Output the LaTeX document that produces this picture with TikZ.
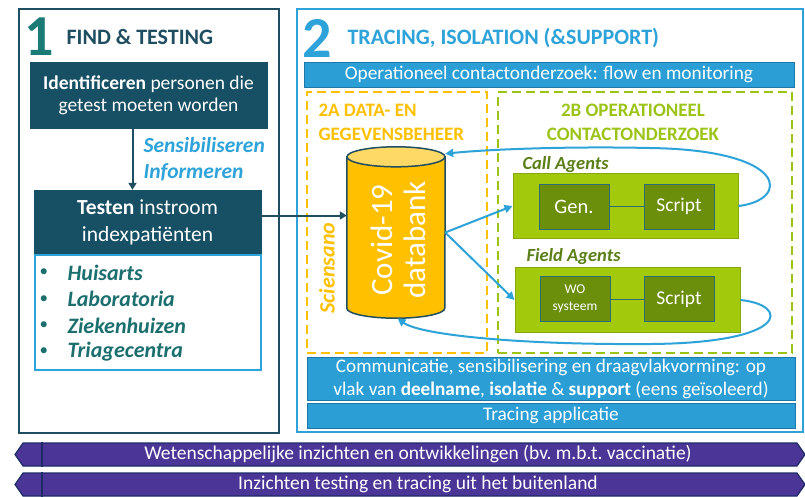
\documentclass[tikz,border=0pt]{standalone}
\usepackage{fontspec}
\setmainfont{Carlito}
\usetikzlibrary{shapes.symbols,arrows.meta}

\definecolor{findframe}{HTML}{1F4E61}
\definecolor{findfill}{HTML}{174F64}
\definecolor{findnum}{HTML}{1A7A76}
\definecolor{listtext}{HTML}{1B6F6F}
\definecolor{skyblue}{HTML}{2EA3DA}
\definecolor{barfill}{HTML}{2B9ED6}
\definecolor{barline}{HTML}{1C78A8}
\definecolor{dataorange}{HTML}{FFC000}
\definecolor{datatop}{HTML}{FFD966}
\definecolor{opgreen}{HTML}{9CC417}
\definecolor{agentfill}{HTML}{A2C90C}
\definecolor{agentline}{HTML}{86A90E}
\definecolor{toolfill}{HTML}{6B8E0B}
\definecolor{toolline}{HTML}{2E6B74}
\definecolor{agenttext}{HTML}{5A7F16}
\definecolor{insight}{HTML}{4B3597}
\definecolor{insightline}{HTML}{1D2B66}

\newcommand{\setfs}[2]{\fontsize{#1}{#2}\selectfont}

\begin{document}
\begin{tikzpicture}[x=1pt,y=-1pt,
    panel/.style={draw,line width=1.5pt,fill=white,inner sep=0pt},
    darkbox/.style={fill=findfill,draw=findfill,text=white,align=center,inner sep=0pt},
    bluebar/.style={fill=barfill,draw=barline,line width=1pt,text=white,align=center,inner sep=0pt},
    zone/.style={draw,dash pattern=on 9pt off 5pt,line width=1.8pt,inner sep=0pt},
    agentbox/.style={fill=agentfill,draw=agentline,line width=1pt,inner sep=0pt,minimum width=225,minimum height=65},
    toolbox/.style={fill=toolfill,draw=toolline,line width=1pt,text=white,align=center,inner sep=0pt,minimum width=70,minimum height=45},
    agentlabel/.style={anchor=west,text=agenttext,font=\setfs{18.5}{22}\bfseries\itshape},
    flow/.style={draw=skyblue,line width=2pt,-{Triangle[length=8pt,width=8pt]}},
    feed/.style={draw=findframe,line width=2pt,-{Triangle[length=7pt,width=8pt]}},
    insightbar/.style={signal,signal to=west and east,signal pointer angle=110,fill=insight,draw=insightline,line width=1.2pt,minimum width=790,minimum height=23,inner sep=0pt},
    insighttext/.style={text=white,font=\setfs{19.5}{22}}]

  \useasboundingbox (0,0) rectangle (805,496);

  % Part 1: find & testing
  \node[panel,draw=findframe,minimum width=260,minimum height=424] (find) at (149,221) {};
  \node[text=findnum,font=\setfs{58}{58}\bfseries,inner sep=0pt] (num1) at (39.5,36.5) {1};
  \node[anchor=west,text=findframe,font=\setfs{22}{26}\bfseries] (findtitle) at (63,37) {FIND \& TESTING};
  \node[darkbox,minimum width=237,minimum height=66,font=\setfs{19.5}{22}] (ident) at (148.5,95)
    {\textbf{Identificeren} personen die\\getest moeten worden};
  \node[darkbox,minimum width=227,minimum height=65,font=\setfs{21.5}{27}] (testen) at (147.5,222.5)
    {\textbf{Testen} instroom\\indexpatiënten};
  \node[panel,draw=skyblue,minimum width=226,minimum height=115] (sites) at (148,312.5) {};
  \node[anchor=west,align=left,text=skyblue,font=\setfs{21.5}{26}\bfseries\itshape] (inform) at (140,159)
    {Sensibiliseren\\Informeren};
  \draw[feed] ([xshift=-16]ident.south) -- ([xshift=-16]ident.south |- testen.north);

  % Test sites
  \foreach \site [count=\i] in {Huisarts,Laboratoria,Ziekenhuizen,Triagecentra} {
    \node[anchor=west,text=listtext,font=\setfs{17}{24}] (bul\i) at (36,273+26.3*\i-26.3) {•};
    \node[anchor=west,text=listtext,font=\setfs{22}{24}\bfseries\itshape] (site\i) at (64,273+26.3*\i-26.3) {\site};
  }

  % Part 2: tracing, isolation & support
  \node[panel,draw=skyblue,minimum width=506,minimum height=423] (trace) at (550,220.5) {};
  \node[text=skyblue,font=\setfs{58}{58}\bfseries,inner sep=0pt] (num2) at (317.5,38) {2};
  \node[anchor=west,text=skyblue,font=\setfs{22}{26}\bfseries] (tracetitle) at (344,38) {TRACING, ISOLATION (\&SUPPORT)};
  \node[bluebar,minimum width=490,minimum height=25,font=\setfs{19.3}{22}] (flowbar) at (549,74.5)
    {Operationeel contactonderzoek: flow en monitoring};
  \node[zone,draw=dataorange,minimum width=180,minimum height=261] (zoneA) at (397,222.5) {};
  \node[zone,draw=opgreen,minimum width=294,minimum height=261] (zoneB) at (645,222.5) {};
  \node[anchor=west,align=left,text=dataorange,font=\setfs{19}{24}\bfseries] (labelA) at (315,122)
    {2A DATA- EN\\GEGEVENSBEHEER};
  \node[align=center,text=opgreen,font=\setfs{19}{24}\bfseries] (labelB) at (633,122)
    {2B OPERATIONEEL\\CONTACTONDERZOEK};
  \node[rotate=90,text=dataorange,font=\setfs{22}{24}\bfseries\itshape] (sciensano) at (327,268) {Sciensano};

  % Database
  \node[minimum width=98,minimum height=171,inner sep=0pt] (db) at (396,232.5) {};
  \filldraw[fill=dataorange,draw=findframe,line width=1.5pt] ([yshift=-10]db.north west)
    -- ([yshift=10]db.south west) arc[start angle=180,end angle=0,x radius=49,y radius=10]
    -- ([yshift=-10]db.north east) -- cycle;
  \filldraw[fill=datatop,draw=findframe,line width=1.5pt] ([yshift=-10]db.north) ellipse[x radius=49,y radius=10];
  \node[rotate=90,align=center,text=white,font=\setfs{31}{33}] (dbtext) at (398.5,240) {Covid-19\\databank};

  % Agents
  \node[agentlabel] (calllabel) at (519,165) {Call Agents};
  \node[agentbox] (call) at (625.5,206) {};
  \node[toolbox,font=\setfs{20.5}{22}] (gen) at (574,206.5) {Gen.};
  \node[toolbox,font=\setfs{19.5}{22}] (script1) at (679,206.5) {Script};
  \node[agentlabel] (fieldlabel) at (523,257) {Field Agents};
  \node[agentbox] (field) at (627.5,300) {};
  \node[toolbox,font=\setfs{13.5}{17}] (wo) at (575,299) {WO\\systeem};
  \node[toolbox,font=\setfs{19.5}{22}] (script2) at (679,299) {Script};
  \draw[toolline,line width=1pt] (gen) -- (script1);
  \draw[toolline,line width=1pt] (wo) -- (script2);

  % Flows between database and agents
  \draw[flow] (db.east) -- (call.west);
  \draw[flow] (db.east) -- (field.west);
  \draw[flow] (call.east) .. controls (790,200) and (790,150) .. (650,148)
    .. controls (560,146) and (480,150) .. (db.58);
  \draw[flow] (field.east) .. controls (790,305) and (790,343) .. (650,344)
    .. controls (520,345) and (420,335) .. (db.-89);

  % Bottom bars of part 2
  \node[bluebar,minimum width=488,minimum height=43,font=\setfs{19.2}{23}] (commbar) at (551,378.5)
    {Communicatie, sensibilisering en draagvlakvorming: op\\vlak van \textbf{deelname}, \textbf{isolatie} \& \textbf{support} (eens geïsoleerd)};
  \node[bluebar,minimum width=488,minimum height=25,font=\setfs{19.3}{22}] (appbar) at (551,415.5) {Tracing applicatie};

  % Testing feeds the database
  \draw[feed] ([yshift=7]testen.east) -- ([yshift=7]testen.east -| db.west);

  % Insight bars
  \node[insightbar] (science) at (410,454.5) {};
  \node[insighttext] (sciencetext) at (418,454.5) {Wetenschappelijke inzichten en ontwikkelingen (bv.\ m.b.t.\ vaccinatie)};
  \node[insightbar] (abroad) at (410,484.5) {};
  \node[insighttext] (abroadtext) at (418,484.5) {Inzichten testing en tracing uit het buitenland};
  \foreach \band in {science,abroad}
    \draw[insightline,line width=1.2pt] (\band.north -| 42,0) -- (\band.south -| 42,0);

\end{tikzpicture}
\end{document}
